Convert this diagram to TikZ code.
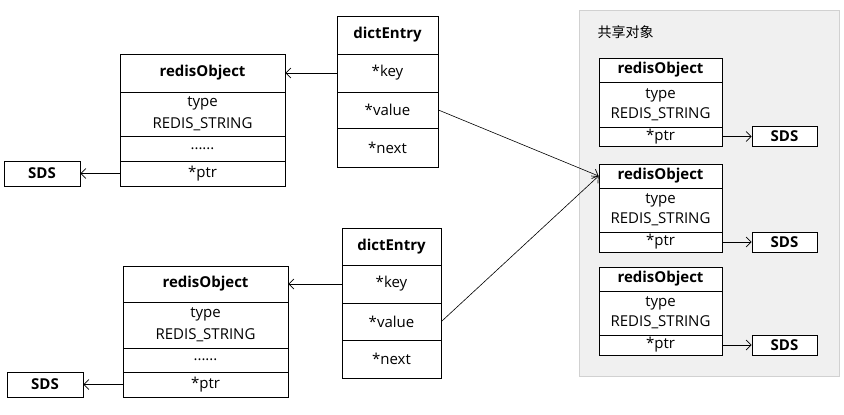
\documentclass[tikz,border=0pt]{standalone}
\usepackage{fontspec}
\setmainfont{Open Sans}
\newfontfamily\cjk{Noto Sans CJK SC}
\usetikzlibrary{arrows.meta}
\begin{document}
\begin{tikzpicture}[x=1pt, y=-1pt, line width=0.8pt,
    every node/.style={font=\fontsize{15}{22}\selectfont},
    cell/.style={draw, inner sep=0pt, align=center},
    ptrarrow/.style={-{Straight Barb[length=5pt, width=10pt, line width=0.7pt]}}]
    \useasboundingbox (0, 0) rectangle (844, 415);

    % shared objects panel
    \fill[black!6] (579, 10) rectangle (839, 376);
    \draw[black!18, line width=1pt] (579, 10) rectangle (839, 376);
    \node (title) at (594, 32) [anchor=west, font=\fontsize{14}{16}\selectfont] {\cjk 共享对象};

    % first key
    \node (de1h) at (387.5, 35)  [cell, minimum width=101, minimum height=38] {\textbf{dictEntry}};
    \node (de1k) at (387.5, 73)  [cell, minimum width=101, minimum height=38] {*key};
    \node (de1v) at (387.5, 110) [cell, minimum width=101, minimum height=36] {*value};
    \node (de1n) at (387.5, 147.5) [cell, minimum width=101, minimum height=39] {*next};

    \node (ro1h) at (202.5, 73)     [cell, minimum width=165, minimum height=38] {\textbf{redisObject}};
    \node (ro1t) at (202.5, 114)    [cell, minimum width=165, minimum height=44] {type\\REDIS\_STRING};
    \node (ro1d) at (202.5, 148.75) [cell, minimum width=165, minimum height=24.5] {......};
    \node (ro1p) at (202.5, 173.5)  [cell, minimum width=165, minimum height=25] {*ptr};
    \node (sl1)  at (42, 173.5)     [cell, minimum width=76, minimum height=25] {\textbf{SDS}};

    % second key
    \node (de2h) at (391.5, 246.5) [cell, minimum width=99, minimum height=37] {\textbf{dictEntry}};
    \node (de2k) at (391.5, 284)   [cell, minimum width=99, minimum height=38] {*key};
    \node (de2v) at (391.5, 321.5) [cell, minimum width=99, minimum height=37] {*value};
    \node (de2n) at (391.5, 359)   [cell, minimum width=99, minimum height=38] {*next};

    \node (ro2h) at (205.5, 284)   [cell, minimum width=165, minimum height=36] {\textbf{redisObject}};
    \node (ro2t) at (205.5, 325)   [cell, minimum width=165, minimum height=46] {type\\REDIS\_STRING};
    \node (ro2d) at (205.5, 360)   [cell, minimum width=165, minimum height=24] {......};
    \node (ro2p) at (205.5, 384.5) [cell, minimum width=165, minimum height=25] {*ptr};
    \node (sl2)  at (45, 384.5)    [cell, minimum width=76, minimum height=25] {\textbf{SDS}};

    % shared redisObjects
    \node (rs1h) at (660.5, 70)    [cell, fill=white, minimum width=123, minimum height=24] {\textbf{redisObject}};
    \node (rs1t) at (660.5, 104.5) [cell, fill=white, minimum width=123, minimum height=45, font=\fontsize{15}{20}\selectfont] {type\\REDIS\_STRING};
    \node (rs1p) at (660.5, 136.5) [cell, fill=white, minimum width=123, minimum height=19] {*ptr};
    \node (ss1)  at (784.5, 136.5) [cell, fill=white, minimum width=65, minimum height=20] {\textbf{SDS}};

    \node (rs2h) at (660.5, 176)   [cell, fill=white, minimum width=123, minimum height=24] {\textbf{redisObject}};
    \node (rs2t) at (660.5, 210)   [cell, fill=white, minimum width=123, minimum height=44, font=\fontsize{15}{20}\selectfont] {type\\REDIS\_STRING};
    \node (rs2p) at (660.5, 242)   [cell, fill=white, minimum width=123, minimum height=20] {*ptr};
    \node (ss2)  at (784.5, 242)   [cell, fill=white, minimum width=65, minimum height=20] {\textbf{SDS}};

    \node (rs3h) at (660.5, 279)   [cell, fill=white, minimum width=123, minimum height=24] {\textbf{redisObject}};
    \node (rs3t) at (660.5, 313)   [cell, fill=white, minimum width=123, minimum height=44, font=\fontsize{15}{20}\selectfont] {type\\REDIS\_STRING};
    \node (rs3p) at (660.5, 345)   [cell, fill=white, minimum width=123, minimum height=20] {*ptr};
    \node (ss3)  at (784.5, 345)   [cell, fill=white, minimum width=65, minimum height=20] {\textbf{SDS}};

    \draw[ptrarrow] (de1k) -- (ro1h);
    \draw[ptrarrow] (ro1p) -- (sl1);
    \draw[ptrarrow] (de2k) -- (ro2h);
    \draw[ptrarrow] (ro2p) -- (sl2);

    \draw[ptrarrow, line width=0.6pt] (de1v.east) -- (rs2h.west);
    \draw[ptrarrow, line width=0.6pt] (de2v.east) -- (rs2h.west);

    \draw[ptrarrow] (rs1p) -- (ss1);
    \draw[ptrarrow] (rs2p) -- (ss2);
    \draw[ptrarrow] (rs3p) -- (ss3);
\end{tikzpicture}
\end{document}
